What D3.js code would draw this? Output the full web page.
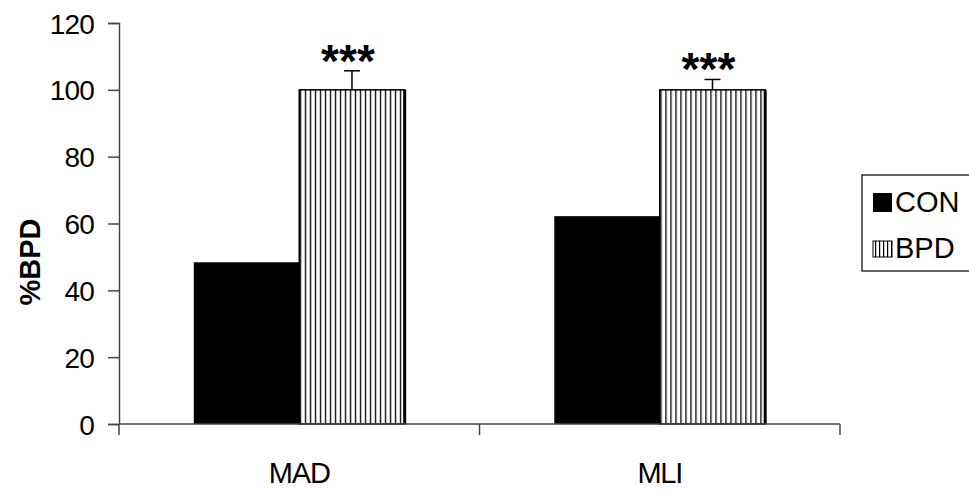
<!DOCTYPE html>
<html>
<head>
<meta charset="utf-8">
<script src="https://cdn.jsdelivr.net/npm/d3@7"></script>
<style>
  html, body { margin: 0; padding: 0; background: #fff; }
  svg { display: block; }
  text { font-family: "Liberation Sans", Arial, sans-serif; fill: #000; }
</style>
</head>
<body>
<svg id="chart" width="969" height="493"></svg>
<script>
// Measurements per lung region
const categories = ["MAD", "MLI"];
const seriesNames = ["CON", "BPD"];
const conValues = [48.4, 62.2];
const bpdValues = [100, 100];
const bpdErrors = [5.7, 3.1];
const significance = ["***", "***"];
const yTicks = [0, 20, 40, 60, 80, 100, 120];

const svg = d3.select("#chart");
const margin = { left: 119, right: 129, top: 23, bottom: 69 };
const W = 969, H = 493;

const x = d3.scaleBand().domain(categories).range([margin.left, W - margin.right]).paddingInner(0).paddingOuter(0);
const y = d3.scaleLinear().domain([0, 120]).range([H - margin.bottom, margin.top]);
const groupWidth = x.bandwidth() * 0.585;
const xs = d3.scaleBand().domain(seriesNames).range([0, groupWidth]).padding(0);

// vertical hatch for the BPD series
const defs = svg.append("defs");
const pat = defs.append("pattern")
  .attr("id", "vstripe").attr("patternUnits", "userSpaceOnUse")
  .attr("width", 5).attr("height", 10);
pat.append("rect").attr("width", 5).attr("height", 10).attr("fill", "#fff");
pat.append("rect").attr("x", 1).attr("width", 1.3).attr("height", 10).attr("fill", "#000");

const legPat = defs.append("pattern")
  .attr("id", "vstripeLeg").attr("patternUnits", "userSpaceOnUse")
  .attr("width", 4).attr("height", 10);
legPat.append("rect").attr("width", 4).attr("height", 10).attr("fill", "#fff");
legPat.append("rect").attr("x", 1).attr("width", 1.2).attr("height", 10).attr("fill", "#000");

const rows = categories.map((c, i) => ({ cat: c, con: conValues[i], bpd: bpdValues[i], err: bpdErrors[i], sig: significance[i] }));

const groups = svg.append("g").selectAll("g").data(rows).join("g")
  .attr("transform", d => `translate(${x(d.cat) + (x.bandwidth() - groupWidth) / 2},0)`);

// CON bars (solid black)
groups.append("rect")
  .attr("x", xs("CON")).attr("width", xs.bandwidth())
  .attr("y", d => y(d.con)).attr("height", d => y(0) - y(d.con))
  .attr("fill", "#000");

// BPD bars (hatched)
groups.append("rect")
  .attr("x", xs("BPD")).attr("width", xs.bandwidth())
  .attr("y", d => y(d.bpd)).attr("height", d => y(0) - y(d.bpd))
  .attr("fill", "url(#vstripe)")
  .attr("stroke", "#000").attr("stroke-width", 1.5);
groups.append("line")
  .attr("x1", xs("BPD") + xs.bandwidth()).attr("x2", xs("BPD") + xs.bandwidth())
  .attr("y1", d => y(d.bpd)).attr("y2", y(0))
  .attr("stroke", "#000").attr("stroke-width", 3);

// error bars (upper only)
const cx = xs("BPD") + xs.bandwidth() / 2;
groups.append("line")
  .attr("x1", cx).attr("x2", cx)
  .attr("y1", d => y(d.bpd)).attr("y2", d => y(d.bpd + d.err))
  .attr("stroke", "#000").attr("stroke-width", 1.5);
groups.append("line")
  .attr("x1", cx - 8).attr("x2", cx + 8)
  .attr("y1", d => y(d.bpd + d.err)).attr("y2", d => y(d.bpd + d.err))
  .attr("stroke", "#000").attr("stroke-width", 1.5);

// significance markers
groups.append("text")
  .attr("x", cx - 4)
  .attr("y", d => y(d.bpd + d.err) - 5 + 11)
  .attr("text-anchor", "middle")
  .attr("font-size", 46).attr("font-weight", "bold")
  .text(d => d.sig);

// y axis
const yAxis = svg.append("g").attr("transform", `translate(${margin.left},0)`)
  .call(d3.axisLeft(y).tickValues(yTicks).tickSize(11).tickPadding(14).tickFormat(d3.format("d")));
yAxis.selectAll("text").attr("font-size", 28).attr("font-family", "Liberation Sans, Arial, sans-serif")
  .attr("dy", "0.36em").attr("letter-spacing", -0.8);
yAxis.selectAll("line, path").attr("stroke", "#444").attr("stroke-width", 1.5);

// x axis with category dividers
const xAxisG = svg.append("g").attr("transform", `translate(0,${y(0)})`);
xAxisG.append("line").attr("x1", margin.left).attr("x2", W - margin.right).attr("y1", 0).attr("y2", 0)
  .attr("stroke", "#444").attr("stroke-width", 1.5);
const dividers = [x.range()[0]].concat(categories.map(c => x(c) + x.bandwidth()));
xAxisG.selectAll("line.div").data(dividers).join("line").attr("class", "div")
  .attr("x1", d => d).attr("x2", d => d).attr("y1", 0).attr("y2", 11)
  .attr("stroke", "#444").attr("stroke-width", 1.5);
xAxisG.selectAll("text.cat").data(categories).join("text").attr("class", "cat")
  .attr("x", d => x(d) + x.bandwidth() / 2).attr("y", 59)
  .attr("text-anchor", "middle").attr("font-size", 29).attr("letter-spacing", -1.2)
  .text(d => d);

// y axis title
svg.append("text")
  .attr("transform", `translate(40,262) rotate(-90)`)
  .attr("text-anchor", "middle").attr("font-size", 29).attr("font-weight", "bold")
  .text("%BPD");

// legend
const leg = svg.append("g").attr("transform", "translate(862,175)");
leg.append("rect").attr("x", 0).attr("y", 0).attr("width", 120).attr("height", 96)
  .attr("fill", "#fff").attr("stroke", "#000").attr("stroke-width", 1.2);
leg.append("rect").attr("x", 11).attr("y", 18).attr("width", 19).attr("height", 19).attr("fill", "#000");
leg.append("rect").attr("x", 11).attr("y", 66).attr("width", 19).attr("height", 16)
  .attr("fill", "url(#vstripeLeg)").attr("stroke", "#000").attr("stroke-width", 1);
leg.selectAll("text").data(seriesNames).join("text")
  .attr("x", 33).attr("y", (d, i) => 37 + i * 46)
  .attr("font-size", 29).text(d => d);
</script>
</body>
</html>
